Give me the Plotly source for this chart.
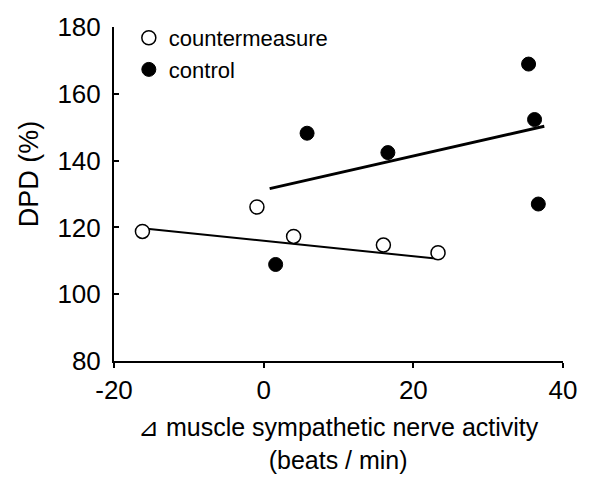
import plotly.graph_objects as go

# Data
cm_x = [-16.2, -0.9, 4.0, 16.0, 23.3]
cm_y = [118.8, 126.1, 117.3, 114.7, 112.4]
ctl_x = [1.6, 5.8, 16.6, 35.4, 36.2, 36.7]
ctl_y = [108.9, 148.2, 142.4, 168.9, 152.3, 127.0]

# Regression line endpoints
cm_line_x = [-15.6, 23.3]
cm_line_y = [119.6, 110.6]
ctl_line_x = [0.8, 37.5]
ctl_line_y = [131.6, 150.3]

x_ticks = [-20, 0, 20, 40]
y_ticks = [80, 100, 120, 140, 160, 180]

x_title = "⊿ muscle sympathetic nerve activity<br>(beats / min)"
y_title = "DPD (%)"

FONT = "Arial, Liberation Sans, sans-serif"

fig = go.Figure()
fig.add_trace(go.Scatter(x=cm_line_x, y=cm_line_y, mode="lines",
                         line=dict(color="black", width=2), showlegend=False, hoverinfo="skip"))
fig.add_trace(go.Scatter(x=ctl_line_x, y=ctl_line_y, mode="lines",
                         line=dict(color="black", width=3), showlegend=False, hoverinfo="skip"))
fig.add_trace(go.Scatter(x=cm_x, y=cm_y, mode="markers", name="countermeasure",
                         marker=dict(symbol="circle", size=14, color="white",
                                     line=dict(color="black", width=1.5))))
fig.add_trace(go.Scatter(x=ctl_x, y=ctl_y, mode="markers", name="control",
                         marker=dict(symbol="circle", size=14, color="black",
                                     line=dict(color="black", width=1))))

fig.update_layout(
    width=589, height=480,
    margin=dict(l=114, r=22, t=24, b=119),
    paper_bgcolor="white", plot_bgcolor="white",
    font=dict(family=FONT, color="black", size=24),
    showlegend=True,
    legend=dict(x=0.033, y=1.03, xanchor="left", yanchor="top",
                font=dict(size=22, family=FONT), bgcolor="rgba(0,0,0,0)",
                tracegroupgap=0, itemsizing="trace"),
    xaxis=dict(range=[-20, 40], tickvals=x_ticks, ticktext=[str(v) for v in x_ticks],
               showline=True, linecolor="black", linewidth=2,
               ticks="outside", ticklen=5, tickwidth=2, tickcolor="black",
               showgrid=False, zeroline=False,
               tickfont=dict(size=26)),
    yaxis=dict(range=[80, 180], tickvals=y_ticks, ticktext=[str(v) for v in y_ticks],
               showline=True, linecolor="black", linewidth=2,
               ticks="inside", ticklen=5, tickwidth=2, tickcolor="black",
               showgrid=False, zeroline=False,
               tickfont=dict(size=26), ticklabelstandoff=6),
    annotations=[
        dict(text=y_title, xref="paper", yref="paper", x=-0.19, y=0.561,
             xanchor="center", yanchor="middle", textangle=-90, showarrow=False,
             font=dict(size=27, family=FONT, color="black")),
        dict(text=x_title, xref="paper", yref="paper", x=0.5, y=-0.246,
             xanchor="center", yanchor="middle", showarrow=False, align="center",
             font=dict(size=25, family=FONT, color="black")),
    ],
)

fig.write_html("out.html")
